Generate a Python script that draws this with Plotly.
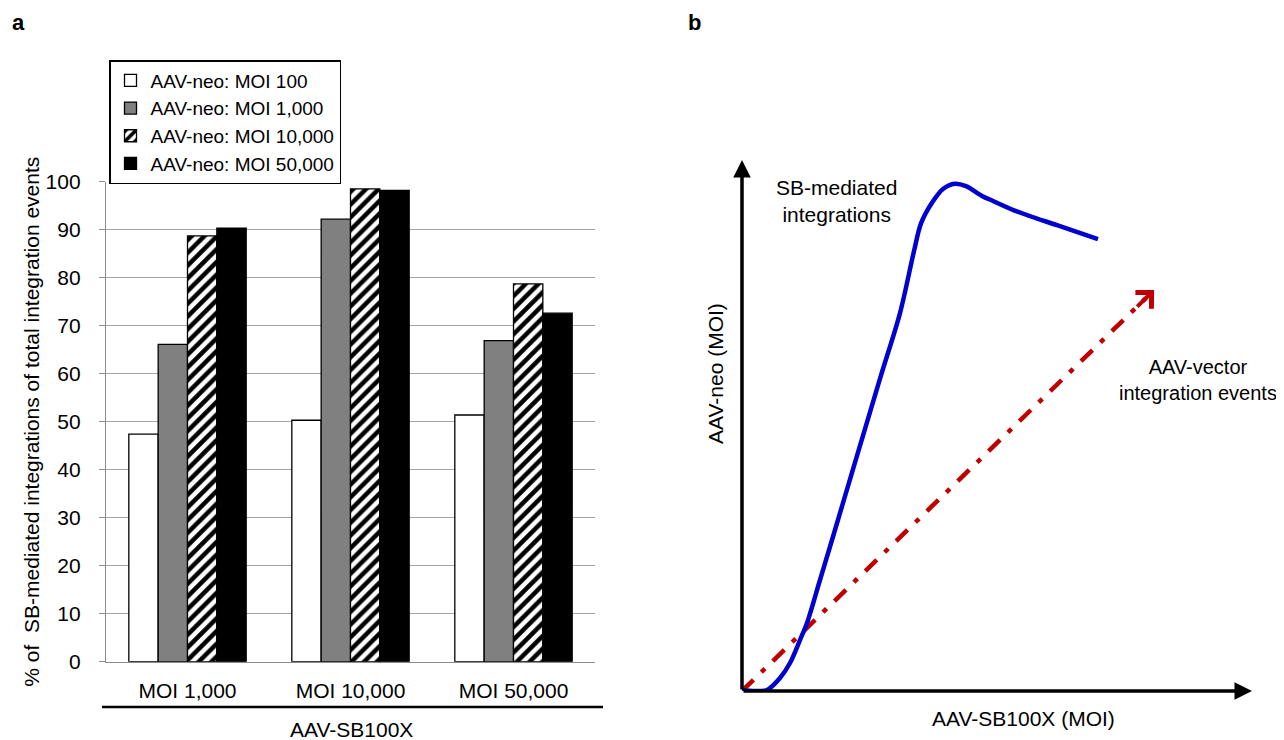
import plotly.graph_objects as go

W, H = 1284, 740
OFF = 8  # page body margin offset of the figure inside the browser window

# ---------------- data: panel a ----------------
categories = ["MOI 1,000", "MOI 10,000", "MOI 50,000"]
series_names = ["AAV-neo: MOI 100", "AAV-neo: MOI 1,000",
                "AAV-neo: MOI 10,000", "AAV-neo: MOI 50,000"]
moi_100 = [47.4, 50.3, 51.4]
moi_1000 = [66.1, 92.2, 66.9]
moi_10000 = [88.7, 98.5, 78.7]
moi_50000 = [90.3, 98.2, 72.6]
y_ticks = [0, 10, 20, 30, 40, 50, 60, 70, 80, 90, 100]

# ---------------- data: panel b (schematic, arbitrary units 0-100) ----------------
sb_x = [0, 2.55, 4.9, 7.45, 9.41, 11.37, 12.75, 15.29, 17.65, 27.06, 30.98, 33.73,
        35.1, 37.25, 39.41, 41.76, 43.92, 47.06, 49.22, 53.33, 61.76, 69.8]
sb_y = [0.19, 0, 0.19, 2.45, 5.27, 9.6, 12.81, 20.9, 28.44, 58.83, 71.17, 82.86,
        88.06, 91.94, 94.54, 95.52, 95.07, 93.24, 92.28, 90.53, 87.72, 85.12]
vec_x = [0, 79.2]
vec_y = [0, 74.0]
vec_tip = (80.8, 75.5)


def px(p):
    return (p - OFF) / W


def py(p):
    return 1 - (p - OFF) / H


FONT = "Arial, Liberation Sans, sans-serif"

fig = go.Figure()

x_idx = list(range(len(categories)))
bar_styles = [
    dict(color="white"),
    dict(color="#808080"),
    dict(color="white", pattern=dict(shape="/", fgcolor="black", bgcolor="white",
                                     size=9, solidity=0.5)),
    dict(color="black"),
]
for name, vals, st in zip(series_names, [moi_100, moi_1000, moi_10000, moi_50000], bar_styles):
    fig.add_trace(go.Bar(
        x=x_idx, y=vals, name=name, xaxis="x", yaxis="y",
        marker=dict(line=dict(color="black", width=1.3), **st),
    ))

# panel b traces
fig.add_trace(go.Scatter(
    x=vec_x, y=vec_y, mode="lines", xaxis="x2", yaxis="y2", showlegend=False,
    line=dict(color="#C00000", width=4.5, dash="16px,11px,5px,11px"),
))
fig.add_trace(go.Scatter(
    x=sb_x, y=sb_y, mode="lines", xaxis="x2", yaxis="y2", showlegend=False,
    line=dict(color="#0000D0", width=4.5, shape="spline", smoothing=0.9),
))


def txt(text, x, y, size=21, bold=False, angle=0, yanchor="middle"):
    return dict(text=f"<b>{text}</b>" if bold else text, x=px(x), y=py(y),
                xref="paper", yref="paper", xanchor="center", yanchor=yanchor,
                showarrow=False, textangle=angle, align="center",
                font=dict(size=size, color="black", family=FONT))


annotations = [
    txt("a", 19, 8, size=22, bold=True, yanchor="top"),
    txt("b", 694, 8, size=22, bold=True, yanchor="top"),
    txt("% of  SB-mediated integrations of total integration events", 32, 421.7, angle=-90),
    txt("AAV-SB100X", 351, 729),
    txt("SB-mediated<br>integrations", 836, 201),
    txt("AAV-vector<br>integration events", 1198, 380, size=20),
    txt("AAV-neo (MOI)", 716, 373, angle=-90),
    txt("AAV-SB100X (MOI)", 1023, 718),
    # axis arrows panel b
    dict(x=0, y=100, ax=0, ay=0, xref="x2", yref="y2", axref="x2", ayref="y2",
         showarrow=True, arrowhead=2, arrowsize=1, arrowwidth=3.5, arrowcolor="black",
         text=""),
    dict(x=100, y=0, ax=0, ay=0, xref="x2", yref="y2", axref="x2", ayref="y2",
         showarrow=True, arrowhead=2, arrowsize=1, arrowwidth=3.5, arrowcolor="black",
         text=""),
    # red arrow head
    dict(x=vec_tip[0], y=vec_tip[1], ax=vec_x[1] - 2, ay=vec_y[1] - 1.9,
         xref="x2", yref="y2", axref="x2", ayref="y2",
         showarrow=True, arrowhead=4, arrowsize=1.1, arrowwidth=4, arrowcolor="#C00000",
         text=""),
]

shapes = [
    dict(type="line", xref="paper", yref="paper", x0=px(102), x1=px(603),
         y0=py(707), y1=py(707), line=dict(color="black", width=2.5)),
]

fig.update_layout(
    template="none",
    width=W, height=H, autosize=False,
    margin=dict(l=0, r=0, t=0, b=0, pad=0, autoexpand=False),
    paper_bgcolor="white", plot_bgcolor="white",
    barmode="group", bargap=0.28, bargroupgap=0,
    font=dict(family=FONT, color="black", size=21),
    showlegend=True,
    legend=dict(x=px(109), y=py(60), xanchor="left", yanchor="top",
                bgcolor="white", bordercolor="black", borderwidth=1.5,
                font=dict(size=19, color="black", family=FONT),
                traceorder="normal"),
    xaxis=dict(domain=[px(106), px(595)], range=[-0.5, 2.5], automargin=False,
               tickvals=x_idx, ticktext=categories, ticks="",
               showline=True, linecolor="#8C8C8C", linewidth=1.3,
               showgrid=False, zeroline=False,
               tickfont=dict(size=21, color="black"), ticklabelstandoff=10),
    yaxis=dict(domain=[py(661.7), py(181.7)], range=[0, 100], automargin=False,
               tickvals=y_ticks, ticks="outside", ticklen=6, tickcolor="#8C8C8C",
               tickwidth=1.3, showline=True, linecolor="#8C8C8C", linewidth=1.3,
               showgrid=True, gridcolor="#A6A6A6", gridwidth=1.3, zeroline=False,
               tickfont=dict(size=21, color="black"), ticklabelstandoff=14),
    xaxis2=dict(domain=[px(742), px(1252)], range=[0, 100], anchor="y2",
                visible=False, automargin=False),
    yaxis2=dict(domain=[py(691), py(160)], range=[0, 100], anchor="x2",
                visible=False, automargin=False),
    annotations=annotations,
    shapes=shapes,
)

fig.write_html("out.html")
